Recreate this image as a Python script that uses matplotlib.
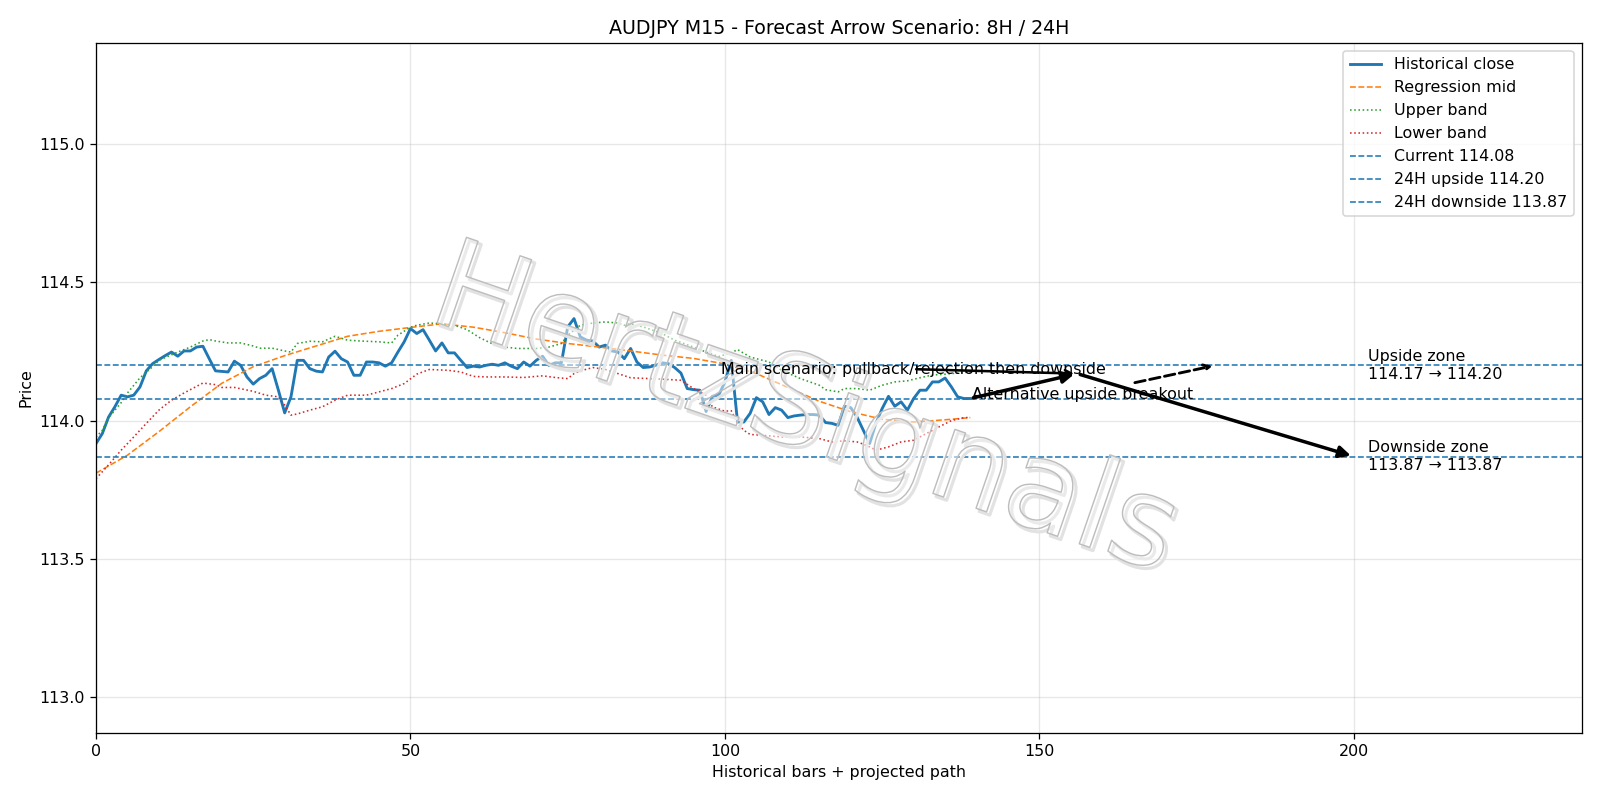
import numpy as np
import matplotlib
matplotlib.use("Agg")
import matplotlib.pyplot as plt
import matplotlib.patheffects as pe

# historical closes (M15 bars, index 0..139)
close = [
    113.917, 113.953, 114.013, 114.050, 114.092, 114.086, 114.092, 114.122, 114.180, 114.206,
    114.221, 114.235, 114.248, 114.233, 114.252, 114.252, 114.266, 114.269, 114.224, 114.180,
    114.178, 114.176, 114.215, 114.200, 114.158, 114.132, 114.152, 114.164, 114.188, 114.110,
    114.028, 114.086, 114.218, 114.218, 114.188, 114.179, 114.176, 114.230, 114.251, 114.224,
    114.212, 114.164, 114.164, 114.212, 114.212, 114.209, 114.197, 114.209, 114.248, 114.285,
    114.333, 114.315, 114.329, 114.291, 114.252, 114.281, 114.245, 114.245, 114.218, 114.192,
    114.197, 114.194, 114.200, 114.204, 114.200, 114.209, 114.197, 114.188, 114.212, 114.197,
    114.218, 114.233, 114.200, 114.209, 114.209, 114.339, 114.369, 114.303, 114.291, 114.288,
    114.266, 114.273, 114.252, 114.248, 114.224, 114.261, 114.212, 114.192, 114.194, 114.200,
    114.209, 114.206, 114.192, 114.172, 114.116, 114.112, 114.110, 114.033, 114.088, 114.092,
    114.140, 114.218, 113.995, 113.995, 114.026, 114.083, 114.068, 114.022, 114.047, 114.038,
    114.011, 114.017, 114.020, 114.022, 114.022, 114.020, 113.993, 113.990, 113.983, 114.052,
    114.047, 114.013, 113.965, 113.917, 113.990, 114.044, 114.088, 114.052, 114.068, 114.038,
    114.080, 114.110, 114.110, 114.140, 114.140, 114.154, 114.122, 114.086, 114.080, 114.080,
]

# regression mid read every 5 bars
mid_x = [0, 5, 10, 15, 20, 25, 30, 35, 40, 45, 50, 55, 60, 65, 70, 75, 80, 85, 90, 95,
         100, 105, 110, 115, 120, 125, 130, 135, 139]
mid_y = [113.810, 113.875, 113.960, 114.050, 114.135, 114.195, 114.235, 114.270, 114.305, 114.323,
         114.337, 114.350, 114.338, 114.318, 114.295, 114.279, 114.266, 114.252, 114.237, 114.225,
         114.205, 114.170, 114.120, 114.070, 114.032, 114.005, 113.995, 114.003, 114.011]

upper_x = [0, 1, 2, 4, 5, 7, 9, 10, 12, 13, 15, 17, 18, 19, 21, 23, 25, 26, 28, 30,
           31, 32, 34, 36, 38, 40, 42, 45, 47, 48, 50, 51, 53, 55, 57, 59, 61, 63, 65, 67,
           70, 72, 74, 75, 77, 79, 81, 83, 84, 85, 87, 90, 92, 95, 97, 99, 101, 102, 104, 107,
           109, 112, 115, 116, 118, 119, 121, 123, 125, 127, 129, 131, 133, 135, 137, 139]
upper_y = [113.940, 113.965, 114.010, 114.065, 114.100, 114.155, 114.195, 114.218, 114.238, 114.248,
           114.266, 114.288, 114.293, 114.288, 114.281, 114.281, 114.270, 114.262, 114.262, 114.252,
           114.248, 114.279, 114.287, 114.285, 114.305, 114.291, 114.288, 114.285, 114.281, 114.309,
           114.338, 114.345, 114.353, 114.350, 114.345, 114.329, 114.300, 114.278, 114.266, 114.261,
           114.261, 114.266, 114.279, 114.309, 114.345, 114.353, 114.357, 114.353, 114.345, 114.350,
           114.339, 114.315, 114.291, 114.266, 114.248, 114.232, 114.245, 114.257, 114.230, 114.212,
           114.182, 114.152, 114.128, 114.112, 114.104, 114.116, 114.116, 114.110, 114.128, 114.140,
           114.144, 114.155, 114.165, 114.168, 114.172, 114.176]

lower_x = [0, 2, 4, 6, 8, 10, 12, 14, 16, 17, 19, 20, 22, 25, 27, 29, 30, 31, 32, 34,
           36, 38, 40, 43, 45, 47, 49, 51, 53, 56, 58, 60, 62, 65, 68, 71, 73, 75, 76, 77,
           79, 81, 83, 85, 88, 90, 93, 95, 97, 98, 100, 101, 102, 103, 104, 106, 109, 112, 115, 117,
           119, 121, 122, 123, 124, 126, 128, 130, 132, 134, 136, 138, 139]
lower_y = [113.790, 113.840, 113.893, 113.941, 113.990, 114.038, 114.074, 114.100, 114.124, 114.136,
           114.130, 114.120, 114.120, 114.106, 114.092, 114.086, 114.056, 114.020, 114.024, 114.038,
           114.050, 114.074, 114.092, 114.092, 114.104, 114.116, 114.134, 114.168, 114.185, 114.182,
           114.176, 114.160, 114.158, 114.158, 114.156, 114.162, 114.156, 114.152, 114.170, 114.180,
           114.192, 114.185, 114.170, 114.155, 114.152, 114.150, 114.146, 114.116, 114.092, 114.050,
           114.034, 114.036, 113.990, 113.965, 113.950, 113.947, 113.941, 113.941, 113.935, 113.923,
           113.927, 113.923, 113.915, 113.905, 113.893, 113.905, 113.923, 113.929, 113.953, 113.977,
           114.000, 114.011, 114.011]

current = 114.08
up_lo, up_hi = 114.17, 114.20
dn_lo, dn_hi = 113.87, 113.87

# scenario path points (bar, price)
start_pt = (139, 114.08)
pivot_pt = (156, 114.17)
down_pt = (200, 113.87)
alt_pt = (178, 114.20)

fig, ax = plt.subplots(figsize=(14, 7), dpi=1600 / 14)

ax.plot(np.arange(len(close)), close, color="tab:blue", lw=1.8, label="Historical close")
ax.plot(mid_x, mid_y, "--", color="tab:orange", lw=1, label="Regression mid")
ax.plot(upper_x, upper_y, ":", color="tab:green", lw=1, label="Upper band")
ax.plot(lower_x, lower_y, ":", color="tab:red", lw=1, label="Lower band")
ax.axhline(current, color="tab:blue", ls="--", lw=1, label=f"Current {current:.2f}")
ax.axhline(up_hi, color="tab:blue", ls="--", lw=1, label=f"24H upside {up_hi:.2f}")
ax.axhline(dn_lo, color="tab:blue", ls="--", lw=1, label=f"24H downside {dn_lo:.2f}")

# main scenario arrows
ax.annotate("", xy=pivot_pt, xytext=start_pt,
            arrowprops=dict(arrowstyle="-|>", lw=2.2, color="black", mutation_scale=15))
ax.annotate("", xy=down_pt, xytext=pivot_pt,
            arrowprops=dict(arrowstyle="-|>", lw=2.2, color="black", mutation_scale=15))
ax.annotate("Main scenario: pullback/rejection then downside", xy=pivot_pt, xytext=(99.3, 114.17),
            arrowprops=dict(arrowstyle="->", lw=1.6, color="black"))
ax.annotate("Alternative upside breakout", xy=alt_pt, xytext=(139.2, 114.08),
            arrowprops=dict(arrowstyle="->", lw=1.8, ls="--", color="black"))

ax.text(202.3, up_hi, f"Upside zone\n{up_lo:.2f} → {up_hi:.2f}", va="center")
ax.text(202.3, dn_lo, f"Downside zone\n{dn_lo:.2f} → {dn_hi:.2f}", va="center")

ax.set_xlim(0, 236.2)
ax.set_ylim(112.871, 115.365)
ax.grid(True, alpha=0.3)
ax.set_title("AUDJPY M15 - Forecast Arrow Scenario: 8H / 24H")
ax.set_xlabel("Historical bars + projected path")
ax.set_ylabel("Price")
ax.legend(loc="upper right")

fig.subplots_adjust(left=0.06, right=0.9885, top=0.946, bottom=0.084)

# watermark: above the lines, below the annotation text
ax.text(0.503, 0.484, "HertzSignals", transform=fig.transFigure, fontsize=78, rotation=-19,
        ha="center", va="center", color=(1, 1, 1, 0.3), zorder=2.5, clip_on=False,
        path_effects=[pe.Stroke(offset=(2, -2), linewidth=2, foreground="#e2e2e2"),
                      pe.Stroke(linewidth=0.9, foreground="#bdbdbd")])

fig.savefig("out.png", dpi=1600 / 14)
